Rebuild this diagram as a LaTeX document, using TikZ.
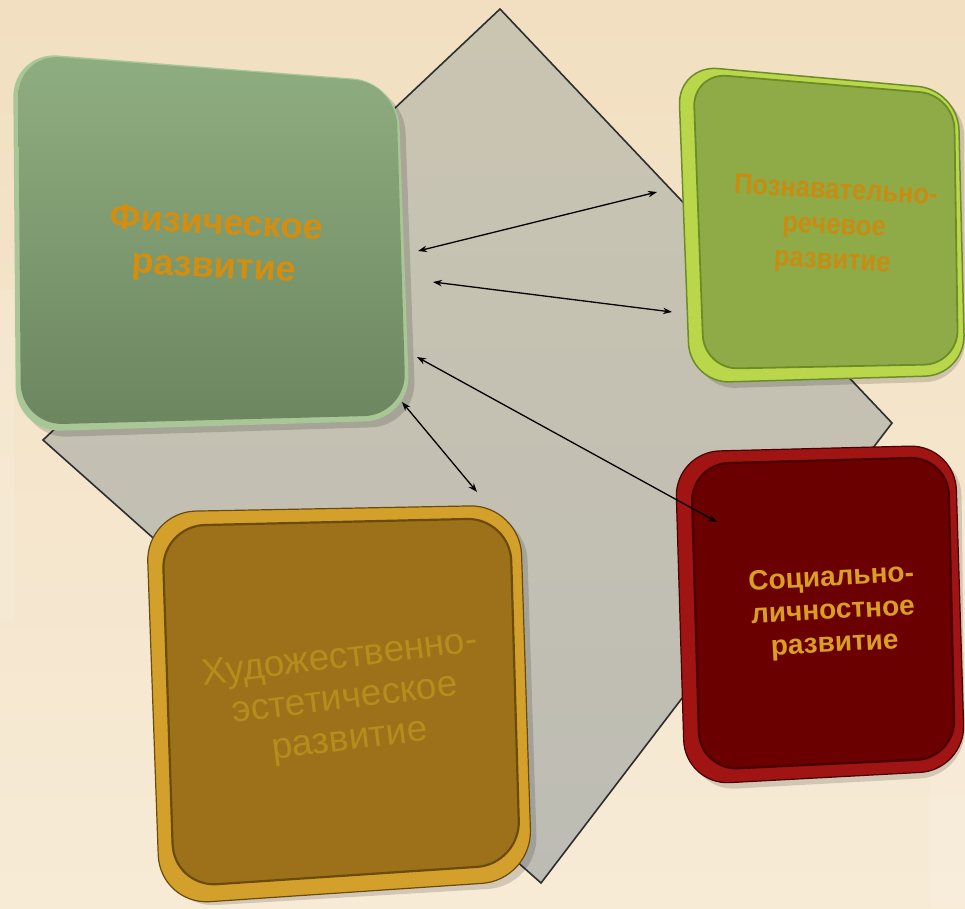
\documentclass[tikz,border=0pt]{standalone}
\usepackage{fontspec}
\setmainfont{Liberation Sans}
\usetikzlibrary{arrows.meta}
\definecolor{bgA}{HTML}{F2DFC1}
\definecolor{bgB}{HTML}{F7EBD6}
\definecolor{diaA}{HTML}{CAC5B1}
\definecolor{diaB}{HTML}{BDBCB4}
\definecolor{diaLine}{HTML}{2E2E2E}
\definecolor{fizRim}{HTML}{A9C796}
\definecolor{fizTop}{HTML}{8FAE80}
\definecolor{fizBot}{HTML}{6C8660}
\definecolor{fizTxt}{HTML}{D38E10}
\definecolor{poRim}{HTML}{BAD74C}
\definecolor{poDark}{HTML}{6C8C28}
\definecolor{poFace}{HTML}{8EAB47}
\definecolor{poTxt}{HTML}{C98C12}
\definecolor{soRim}{HTML}{A01414}
\definecolor{soDark}{HTML}{4A0000}
\definecolor{soFace}{HTML}{6B0000}
\definecolor{soTxt}{HTML}{DA9E22}
\definecolor{huRim}{HTML}{D4A02C}
\definecolor{huDark}{HTML}{6A4B0C}
\definecolor{huFace}{HTML}{9D7119}
\definecolor{huTxt}{HTML}{B68C1C}
\tikzset{
  boxtext/.style={align=center, inner sep=0pt, font=\bfseries},
  link/.style={draw=black, line width=1.3pt, {Stealth[length=9pt,width=6.5pt]}-{Stealth[length=9pt,width=6.5pt]}},
  shadowbox/.style={fill=black, opacity=0.15}
}
\begin{document}
\begin{tikzpicture}[x=1pt,y=-1pt]
\useasboundingbox (0,0) rectangle (965,908);
% background
\shade[top color=bgA, bottom color=bgB] (0,0) rectangle (965,908);
\fill[white, opacity=0.12] (0,290) rectangle (14,620);
\fill[white, opacity=0.12] (930,500) rectangle (965,908);
% diamond
\shade[top color=diaA, bottom color=diaB, draw=diaLine, line width=1.6pt]
  (500,9) -- (892,423) -- (541,883) -- (43,440) -- cycle;
% green box: physical
\fill[shadowbox, rounded corners=45pt] (19,58) -- (404,88) -- (416,426) -- (22,438) -- cycle;
\fill[fizRim, rounded corners=45pt] (13,52) -- (398,82) -- (410,420) -- (16,432) -- cycle;
\shade[top color=fizTop, bottom color=fizBot, rounded corners=42pt]
  (18,54) -- (396,83) -- (406,415) -- (21,425) -- cycle;
% light green box: cognitive-speech
\fill[shadowbox, rounded corners=40pt] (684,71) -- (964,96) -- (965,381) -- (696,389) -- cycle;
\fill[poRim, draw=poDark, line width=1.5pt, rounded corners=40pt] (678,65) -- (958,90) -- (965,375) -- (690,383) -- cycle;
\fill[poFace, draw=poDark, line width=1.8pt, rounded corners=34pt] (693,73) -- (954,95) -- (958,364) -- (704,369) -- cycle;
% red box: social-personal
\fill[shadowbox, rounded corners=45pt] (681,458) -- (961,451) -- (965,776) -- (691,791) -- cycle;
\fill[soRim, draw=soDark, line width=1.2pt, rounded corners=45pt] (675,452) -- (955,445) -- (965,770) -- (685,785) -- cycle;
\fill[soFace, draw=soDark, line width=2.2pt, rounded corners=38pt] (691,464) -- (948,457) -- (955,758) -- (700,770) -- cycle;
% gold box: artistic-aesthetic
\fill[shadowbox, rounded corners=50pt] (152,518) -- (526,511) -- (538,886) -- (166,908) -- cycle;
\fill[huRim, draw=huDark, line width=1.2pt, rounded corners=50pt] (146,512) -- (520,505) -- (532,880) -- (160,905) -- cycle;
\fill[huFace, draw=huDark, line width=2.2pt, rounded corners=43pt] (162,526) -- (510,518) -- (520,864) -- (174,887) -- cycle;
% texts
\node[boxtext, text=fizTxt, rotate=-3, font=\bfseries\fontsize{36}{43}\selectfont] (tfiz) at (215,247) {Физическое\\развитие};
\node[boxtext, text=poTxt, rotate=-3, xscale=0.88, font=\bfseries\fontsize{29}{35}\selectfont] (tpozn) at (834,227) {Познавательно-\\речевое\\развитие};
\node[boxtext, text=soTxt, rotate=3, font=\bfseries\fontsize{28}{33}\selectfont] (tsoc) at (833,612) {Социально-\\личностное\\развитие};
\node[boxtext, text=huTxt, rotate=7, font=\mdseries\fontsize{37}{41}\selectfont] (thud) at (345,700) {Художественно-\\эстетическое\\развитие};
% arrow ends
\coordinate (a1s) at (418,251);
\coordinate (a1e) at (657,192);
\coordinate (a2s) at (433,282);
\coordinate (a2e) at (672,312);
\coordinate (a3s) at (417,357);
\coordinate (a3e) at (717,522);
\coordinate (a4s) at (402,402);
\coordinate (a4e) at (477,492);
\draw[link] (a1s) -- (a1e);
\draw[link] (a2s) -- (a2e);
\draw[link] (a3s) -- (a3e);
\draw[link] (a4s) -- (a4e);
\end{tikzpicture}
\end{document}
